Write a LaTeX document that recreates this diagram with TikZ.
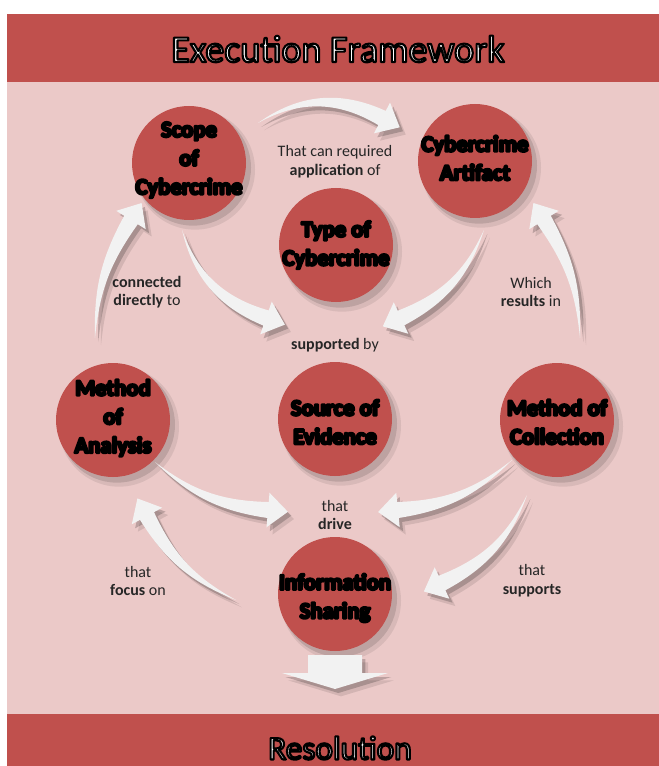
\documentclass[tikz,border=0pt]{standalone}
\usepackage{fontspec}
\setmainfont{Carlito}
\usetikzlibrary{calc}
\definecolor{bandred}{HTML}{C0504D}
\definecolor{bgpink}{HTML}{EBC9C8}
\definecolor{arrowwhite}{HTML}{F2F2F2}
\newcommand\heavy[1]{\special{pdf:literal direct q 2 Tr 1.8 w 1 j 0 0 0 RG}#1\special{pdf:literal direct Q}}
\newcommand\outl[1]{\special{pdf:literal direct q 2 Tr 1.6 w 1 j 0 0 0 RG}#1\special{pdf:literal direct Q}}
\def\fahl{15pt}
\def\fabw{6pt}
\def\fahw{13pt}
\newcommand\flowarrow[4]{%
  \pgfmathsetmacro\faneg{-(#4)}%
  \coordinate (#1-ext) at ($(#3)!-1!(#2)$);
  \coordinate (#1-tip) at ($(#3)!\fahl!\faneg:(#1-ext)$);
  \coordinate (#1-l) at ($(#3)!\fabw!90:(#1-tip)$);
  \coordinate (#1-r) at ($(#3)!\fabw!-90:(#1-tip)$);
  \coordinate (#1-hl) at ($(#3)!\fahw!90:(#1-tip)$);
  \coordinate (#1-hr) at ($(#3)!\fahw!-90:(#1-tip)$);
  \foreach \op/\sx/\sy in {0.10/4.5/-5.5, 0.20/2.5/-3}{
    \fill[black, opacity=\op, transform canvas={shift={(\sx pt,\sy pt)}}]
      (#2) to[bend left=#4] (#1-l) -- (#1-hl) -- (#1-tip) -- (#1-hr) -- (#1-r) to[bend right=#4] (#2);
  }
  \fill[arrowwhite] (#2) to[bend left=#4] (#1-l) -- (#1-hl) -- (#1-tip) -- (#1-hr) -- (#1-r) to[bend right=#4] (#2);
}
\newcommand\bubble[2]{%
  \coordinate (#1-c) at (#2);
  \fill[black, opacity=0.08] ([shift={(4.5pt,-5pt)}]#1-c) circle (45pt);
  \fill[black, opacity=0.12] ([shift={(3pt,-3.5pt)}]#1-c) circle (43.5pt);
  \node[circ] (#1) at (#1-c) {};
}
\tikzset{
  circ/.style={circle, fill=bandred, minimum size=85.5pt, inner sep=0pt},
  ctext/.style={font=\fontsize{17}{21.5}\selectfont\bfseries, align=center, text=black, inner sep=0pt},
  lbl/.style={font=\fontsize{12}{14}\selectfont, align=center, text=black!85, inner sep=0pt},
  ttl/.style={font=\fontsize{28.5}{32}\selectfont, text=white, inner sep=0pt},
}
\begin{document}
\begin{tikzpicture}[x=0.75pt, y=-0.75pt]
\useasboundingbox (0,0) rectangle (659,766);
\fill[white] (0,0) rectangle (659,766);
\fill[bgpink] (7,82) rectangle (659,714);
\fill[bandred] (7,14) rectangle (659,82);
\fill[bandred] (7,714) rectangle (659,766);
\node[ttl] (title) at (338,49) {\outl{Execution Framework}};
\node[ttl, font=\fontsize{25}{28}\selectfont] (resol) at (340,748) {\outl{Resolution}};

% circles
\bubble{scope}{189,163}
\bubble{artifact}{475,161}
\bubble{type}{336,245}
\bubble{source}{335,419}
\bubble{analysis}{113,420}
\bubble{collection}{557,420}
\bubble{info}{335,594}

\node[ctext] (scope-t) at (189,160) {\heavy{Scope\\of\\Cybercrime}};
\node[ctext] (artifact-t) at (475,158) {\heavy{Cybercrime\\Artifact}};
\node[ctext] (type-t) at (336,245) {\heavy{Type of\\Cybercrime}};
\node[ctext] (source-t) at (335,422) {\heavy{Source of\\Evidence}};
\node[ctext] (analysis-t) at (113,418) {\heavy{Method\\of\\Analysis}};
\node[ctext] (collection-t) at (557,422) {\heavy{Method of\\Collection}};
\node[ctext] (info-t) at (335,598) {\heavy{Information\\Sharing}};

% labels
\node[lbl] (l1) at (335,162) {That can required\\\textbf{application} of};
\node[lbl] (l2) at (147,292) {\textbf{connected}\\\textbf{directly} to};
\node[lbl] (l3) at (531,292) {Which\\\textbf{results} in};
\node[lbl] (l4) at (335,345) {\textbf{supported} by};
\node[lbl] (l5) at (335,515) {that\\\textbf{drive}};
\node[lbl] (l6) at (138,581) {that\\\textbf{focus} on};
\node[lbl] (l7) at (532,581) {that\\\textbf{supports}};

% arrows
\flowarrow{a1}{258,123}{382,118}{30}
\flowarrow{a2}{182,230}{266,318}{-27}
\flowarrow{a3}{484,230}{401,318}{22}
\flowarrow{a4}{95,338}{131,220}{15}
\flowarrow{a5}{580,338}{544,220}{-15}
\flowarrow{a6}{155,462}{268,510}{-18}
\flowarrow{a7}{512,460}{398,510}{18}
\flowarrow{a8}{527,495}{442,583}{21}
\flowarrow{a9}{236,600}{147,516}{18}

% down arrow
\coordinate (d1) at (308,655);
\coordinate (d2) at (362,655);
\coordinate (d3) at (362,673);
\coordinate (d4) at (388,673);
\coordinate (d5) at (335,689);
\coordinate (d6) at (282,673);
\coordinate (d7) at (308,673);
\foreach \op/\sx/\sy in {0.10/4.5/-5.5, 0.20/2.5/-3}{
  \fill[black, opacity=\op, transform canvas={shift={(\sx pt,\sy pt)}}]
    (d1) -- (d2) -- (d3) -- (d4) -- (d5) -- (d6) -- (d7) -- cycle;
}
\fill[arrowwhite] (d1) -- (d2) -- (d3) -- (d4) -- (d5) -- (d6) -- (d7) -- cycle;
\end{tikzpicture}
\end{document}
